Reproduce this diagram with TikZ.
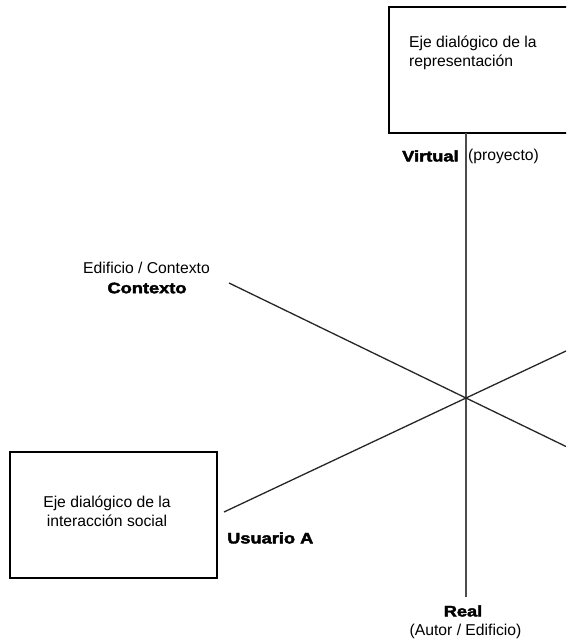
\documentclass[tikz,border=0pt]{standalone}
\usepackage{fontspec}
\setmainfont{Liberation Sans}
\newfontfamily\heavyfont[FakeBold=2.6,FakeStretch=1.2]{Liberation Sans Bold}
\begin{document}
\begin{tikzpicture}[x=1pt,y=-1pt,
  txt/.style={font=\fontsize{15.7}{19}\selectfont, inner sep=0pt},
  heavy/.style={font=\fontsize{15.2}{19}\selectfont\heavyfont, inner sep=0pt},
  boxframe/.style={draw=black, line width=1.4pt, inner sep=0pt},
  axis/.style={draw=black!85, line width=1.3pt},
  vaxis/.style={draw=black!70, line width=1.8pt}]
\clip (0,0) rectangle (566,641);
\fill[white] (0,0) rectangle (566,641);
% boxes
\node[boxframe, minimum width=240pt, minimum height=126pt] (topbox) at (509,70) {};
\node[boxframe, minimum width=207pt, minimum height=126pt] (leftbox) at (113.5,515) {};
\node[txt, anchor=north west, align=left] (toptext) at (409,36) {Eje dialógico de la\\representación};
\node[txt, align=center] (lefttext) at (107,511) {Eje dialógico de la\\interacción social};
% axes
\coordinate (c) at (466,398);
\coordinate (vtop) at (466,133);
\coordinate (vbot) at (466,597);
\coordinate (ctx) at (229,283);
\coordinate (ctxend) at (566,446.5);
\coordinate (usr) at (224,512);
\coordinate (usrend) at (566,351);
\draw[vaxis] (vtop) -- (c) -- (vbot);
\draw[axis] (ctx) -- (c) -- (ctxend);
\draw[axis] (usr) -- (c) -- (usrend);
% labels
\node[heavy, anchor=west] (virtual) at (402,156) {Virtual};
\node[txt, anchor=west] (proyecto) at (468,156) {(proyecto)};
\node[txt] (edificio) at (146.5,268) {Edificio / Contexto};
\node[heavy] (contexto) at (147,288) {Contexto};
\node[heavy, anchor=west] (usuario) at (227,538) {Usuario A};
\node[heavy] (real) at (463,611) {Real};
\node[txt] (autor) at (465.5,631) {(Autor / Edificio)};
\end{tikzpicture}
\end{document}
